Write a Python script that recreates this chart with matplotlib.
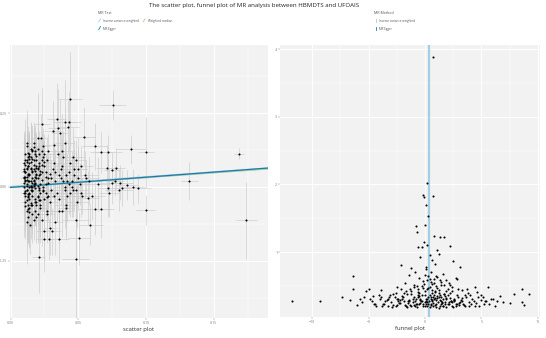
import matplotlib
matplotlib.use("Agg")
import matplotlib.pyplot as plt
from matplotlib.lines import Line2D
from matplotlib.legend_handler import HandlerBase
import numpy as np

plt.rcParams['font.family'] = ['Open Sans', 'DejaVu Sans']

# ---- scatter plot data (SNP effects on exposure / outcome) ----
bx = [0.010,0.012,0.014,0.011,0.016,0.013,0.018,0.015,0.020,0.012,
      0.017,0.011,0.019,0.014,0.022,0.013,0.016,0.021,0.010,0.018,
      0.024,0.012,0.015,0.020,0.026,0.011,0.017,0.023,0.014,0.019,
      0.028,0.013,0.016,0.021,0.012,0.025,0.018,0.015,0.022,0.010,
      0.027,0.014,0.019,0.011,0.024,0.016,0.030,0.013,0.020,0.017,
      0.031,0.012,0.018,0.015,0.022,0.026,0.011,0.019,0.014,0.029,
      0.033,0.016,0.012,0.021,0.017,0.013,0.024,0.032,0.015,0.020,
      0.035,0.011,0.018,0.014,0.023,0.019,0.027,0.012,0.016,0.025,
      0.034,0.013,0.021,0.017,0.010,0.028,0.015,0.022,0.036,0.012,
      0.038,0.014,0.019,0.026,0.011,0.016,0.030,0.023,0.013,0.040,
      0.018,0.012,0.025,0.015,0.020,0.032,0.011,0.028,0.017,0.042,
      0.014,0.021,0.013,0.037,0.016,0.019,0.024,0.010,0.033,0.045,
      0.039,0.041,0.044,0.036,0.047,0.043,0.050,0.046,0.038,0.052,
      0.041,0.048,0.037,0.049,0.044,0.055,0.040,0.053,0.045,0.048,
      0.058,0.036,0.042,0.051,0.047,0.040,0.056,0.039,0.043,0.050,
      0.044,0.0755,0.0235,0.040,0.043,0.035,0.0425,0.0367,0.020,0.0225,
      0.054,0.032,0.062,0.067,0.072,0.0887,0.100,0.1685,0.132,0.174,
      0.0996,0.071,0.0747,0.0777,0.0645,0.072,0.077,0.081,0.080,0.086,
      0.090,0.094,0.073,0.075,0.082,0.062,0.0665,0.059,0.048,0.0505,
      0.036,0.025,0.0287,0.025,0.029,0.0305,0.0207,0.048,0.0147,0.041,
      0.057,0.031,0.034,0.027,0.023,0.052,0.060,0.046,0.038,0.033,
      0.013,0.016,0.011,0.019,0.022,0.014,0.017,0.012,0.020,0.015,
      0.018,0.010,0.023,0.013,0.016,0.021,0.011,0.014,0.026,0.012,
      0.015,0.019,0.012,0.017,0.024,0.010,0.013,0.020,0.016,0.028,
      0.011,0.014,0.018,0.022,0.013,0.016,0.025,0.012,0.019,0.015,
      0.020,0.012,0.017,0.014,0.027,0.011,0.018,0.023,0.013,0.016,
      0.010,0.015,0.021,0.012,0.018,0.014,0.029,0.017,0.011,0.022]
by = [0.030,0.010,-0.020,0.050,0.000,0.070,-0.040,0.020,0.060,-0.010,
      0.090,-0.050,0.040,-0.070,0.010,0.100,-0.030,0.080,0.000,0.110,
      -0.010,0.060,0.130,-0.090,0.050,-0.020,0.020,0.120,0.080,-0.060,
      0.030,-0.100,0.050,0.070,0.140,-0.040,-0.080,0.000,-0.020,0.080,
      0.090,0.040,-0.050,-0.030,0.100,0.120,-0.010,0.020,0.030,-0.110,
      0.060,0.150,0.010,-0.060,-0.070,0.010,0.090,0.070,-0.040,-0.050,
      0.020,-0.090,-0.120,0.110,0.060,0.040,0.140,-0.030,0.100,-0.030,
      0.110,0.020,0.120,0.000,0.050,-0.100,-0.080,-0.080,0.030,0.070,
      -0.020,-0.030,-0.010,0.150,-0.020,0.120,0.060,-0.060,0.040,0.090,
      0.070,0.110,0.030,-0.020,0.110,-0.060,0.030,0.090,-0.060,-0.010,
      -0.050,-0.010,0.110,-0.010,0.130,0.080,0.050,-0.030,0.010,0.020,
      0.020,0.040,0.070,0.030,-0.010,0.090,0.000,0.060,0.050,0.000,
      0.100,0.040,-0.020,-0.040,0.060,0.010,0.030,-0.010,0.120,-0.020,
      -0.070,0.090,0.060,-0.050,0.080,0.040,0.150,-0.030,0.020,-0.010,
      0.020,-0.080,-0.030,0.010,0.040,0.000,0.030,0.020,0.050,0.060,
      0.297,0.277,0.213,0.220,0.220,0.200,0.203,0.183,0.167,0.167,
      0.170,0.143,0.137,0.117,0.117,0.127,0.117,0.113,0.020,-0.113,
      -0.077,0.063,0.057,0.063,0.010,-0.002,0.020,0.015,-0.010,0.007,
      0.000,-0.005,-0.020,0.012,-0.003,-0.073,-0.073,-0.127,-0.113,-0.173,
      -0.177,-0.177,-0.177,-0.150,-0.140,-0.150,-0.237,-0.243,-0.127,-0.060,
      -0.037,0.190,0.230,-0.090,-0.110,0.070,-0.030,0.100,-0.080,-0.120,
      0.045,-0.015,0.025,0.065,-0.045,0.105,0.005,0.035,-0.035,0.085,
      0.015,0.055,0.075,-0.025,0.125,-0.005,-0.065,0.095,0.035,0.005,
      -0.055,0.045,0.085,0.025,-0.015,0.035,-0.035,0.065,0.055,0.015,
      0.075,-0.025,-0.005,0.045,0.115,0.015,0.085,-0.045,0.105,0.065,
      0.005,0.025,0.135,0.045,-0.035,-0.015,0.055,0.025,-0.075,0.095,
      0.015,0.005,-0.045,0.065,0.035,-0.085,0.045,0.075,0.035,0.055]
se_bx = [0.003,0.002,0.004,0.003,0.005,0.002,0.004,0.003,0.005,0.002,
         0.004,0.003,0.005,0.002,0.004,0.003,0.005,0.004,0.002,0.003,
         0.005,0.002,0.003,0.004,0.006,0.003,0.004,0.005,0.002,0.004,
         0.006,0.003,0.004,0.005,0.002,0.004,0.003,0.005,0.004,0.002,
         0.005,0.003,0.004,0.002,0.006,0.003,0.005,0.002,0.004,0.003,
         0.006,0.003,0.004,0.003,0.005,0.004,0.002,0.005,0.003,0.006,
         0.007,0.004,0.002,0.005,0.003,0.004,0.005,0.006,0.003,0.004,
         0.007,0.002,0.004,0.003,0.005,0.004,0.006,0.003,0.004,0.005,
         0.006,0.003,0.005,0.004,0.002,0.006,0.003,0.004,0.007,0.003,
         0.007,0.003,0.004,0.005,0.002,0.004,0.006,0.005,0.003,0.008,
         0.004,0.003,0.005,0.003,0.004,0.006,0.002,0.005,0.004,0.008,
         0.003,0.004,0.003,0.007,0.004,0.005,0.004,0.002,0.006,0.008,
         0.007,0.008,0.006,0.005,0.009,0.007,0.008,0.006,0.007,0.009,
         0.006,0.008,0.007,0.009,0.006,0.010,0.007,0.008,0.006,0.009,
         0.009,0.006,0.007,0.008,0.006,0.007,0.009,0.006,0.008,0.007,
         0.009,0.010,0.006,0.008,0.009,0.007,0.008,0.006,0.005,0.004,
         0.008,0.007,0.009,0.008,0.010,0.011,0.006,0.004,0.006,0.008,
         0.007,0.008,0.006,0.007,0.009,0.008,0.007,0.009,0.010,0.008,
         0.009,0.010,0.008,0.009,0.007,0.012,0.010,0.009,0.010,0.008,
         0.007,0.006,0.008,0.006,0.005,0.007,0.005,0.010,0.004,0.009,
         0.008,0.006,0.007,0.005,0.006,0.009,0.010,0.008,0.007,0.006,
         0.003,0.004,0.002,0.004,0.005,0.003,0.004,0.002,0.005,0.003,
         0.004,0.002,0.005,0.003,0.004,0.005,0.002,0.003,0.006,0.002,
         0.003,0.004,0.002,0.004,0.005,0.002,0.003,0.004,0.003,0.006,
         0.002,0.003,0.004,0.005,0.003,0.004,0.005,0.002,0.004,0.003,
         0.004,0.002,0.004,0.003,0.006,0.002,0.004,0.005,0.003,0.004,
         0.002,0.003,0.005,0.002,0.004,0.003,0.006,0.004,0.002,0.005]
se_by = [0.08,0.06,0.10,0.07,0.09,0.12,0.05,0.08,0.11,0.07,
         0.10,0.06,0.09,0.13,0.07,0.08,0.11,0.06,0.09,0.10,
         0.07,0.12,0.08,0.10,0.06,0.09,0.13,0.07,0.11,0.08,
         0.06,0.09,0.12,0.08,0.10,0.07,0.05,0.14,0.09,0.11,
         0.08,0.10,0.07,0.12,0.06,0.09,0.08,0.13,0.10,0.07,
         0.09,0.11,0.06,0.08,0.12,0.10,0.07,0.09,0.13,0.06,
         0.07,0.10,0.14,0.08,0.09,0.11,0.06,0.08,0.12,0.10,
         0.06,0.13,0.08,0.10,0.07,0.09,0.11,0.12,0.08,0.07,
         0.10,0.08,0.12,0.07,0.15,0.06,0.09,0.11,0.08,0.10,
         0.09,0.07,0.11,0.08,0.12,0.10,0.06,0.09,0.13,0.07,
         0.08,0.12,0.07,0.10,0.09,0.06,0.14,0.08,0.11,0.09,
         0.11,0.08,0.10,0.07,0.13,0.09,0.06,0.12,0.08,0.10,
         0.09,0.12,0.08,0.14,0.07,0.10,0.11,0.09,0.13,0.08,
         0.10,0.07,0.12,0.09,0.15,0.08,0.11,0.06,0.10,0.13,
         0.08,0.11,0.09,0.07,0.12,0.14,0.06,0.10,0.09,0.11,
         0.16,0.05,0.12,0.14,0.10,0.13,0.09,0.11,0.15,0.08,
         0.10,0.09,0.08,0.07,0.06,0.05,0.12,0.02,0.065,0.13,
         0.05,0.08,0.06,0.07,0.09,0.10,0.05,0.06,0.07,0.05,
         0.06,0.05,0.08,0.07,0.06,0.09,0.10,0.07,0.13,0.09,
         0.08,0.11,0.07,0.10,0.09,0.08,0.12,0.20,0.10,0.12,
         0.09,0.10,0.12,0.08,0.09,0.07,0.08,0.10,0.09,0.11,
         0.07,0.10,0.06,0.09,0.12,0.08,0.11,0.05,0.09,0.13,
         0.10,0.06,0.08,0.12,0.07,0.09,0.11,0.08,0.06,0.10,
         0.12,0.07,0.09,0.10,0.06,0.13,0.08,0.07,0.11,0.09,
         0.06,0.10,0.12,0.08,0.09,0.11,0.07,0.13,0.08,0.10,
         0.09,0.11,0.07,0.10,0.06,0.12,0.08,0.09,0.11,0.07,
         0.13,0.08,0.10,0.06,0.09,0.12,0.07,0.10,0.08,0.11]

# MR estimates (slopes) for the scatter lines
mr_methods = ["Inverse variance weighted", "Weighted median", "MR Egger"]
mr_slopes = [0.33, 0.325, 0.345]
mr_intercepts = [0.0, 0.0, -0.0015]

# ---- funnel plot data (single SNP estimate vs 1/SE) ----
b_iv = [0.7,0.2,-0.2,-0.05,0.7,0.05,0.23,-0.8,-0.7,-0.03,
        0.8,1.3,1.7,2.2,-0.6,-0.3,0.2,1.1,2.5,3.1,
        -6.4,-2.1,-1.2,2.7,2.8,-11.8,-9.3,-7.35,-6.4,-6.6,
        6.6,7.9,8.6,9.2,8.8,7.5,6.9,8.6,5.6,-0.1,
        0.4,0.6,-0.4,1.2,0.9,-0.9,0.1,1.6,-1.4,0.5,
        -0.5,0.3,1.0,1.9,-1.8,0.8,1.4,-0.2,2.1,0.0,
        -1.0,1.7,0.6,-0.7,2.4,-2.5,0.2,1.1,-1.3,2.9,
        -5.2,-4.9,-4.5,-4.1,-3.8,-3.5,-3.2,-2.9,-2.6,-2.3,
        -2.0,-1.8,-1.6,-1.4,-1.2,-1.0,-0.8,-0.6,-0.4,-0.2,
        0.0,0.2,0.4,0.6,0.8,1.0,1.2,1.4,1.6,1.8,
        2.0,2.2,2.4,2.6,2.8,3.0,3.3,3.6,3.9,4.2,
        4.5,4.8,5.1,5.4,5.7,6.0,-5.6,-6.0,-5.0,-4.3,
        -3.0,-2.7,-2.2,-1.9,-1.5,-1.1,-0.7,-0.3,0.1,0.5,
        0.9,1.3,1.7,2.1,2.5,2.9,3.4,3.8,4.3,4.7,
        -4.7,-4.0,-3.6,-3.3,-2.8,-2.4,-1.7,-1.3,-0.9,-0.5,
        0.3,0.7,1.1,1.5,1.9,2.3,2.7,3.2,3.7,4.1,
        -0.1,0.4,0.8,1.2,-0.6,-1.0,0.0,0.6,1.4,-0.3,
        5.0,5.3,4.4,3.5,6.2,-5.4,-3.9,-2.5,-2.1,-1.6,
        -0.8,-0.4,0.1,0.5,0.9,1.3,1.8,2.2,2.6,3.1,
        -1.2,-0.6,0.2,0.7,1.0,1.6,2.0,-0.2,0.4,1.1,
        4.6,5.2,5.8,3.3,2.4,-4.6,-3.4,-2.0,-5.8,6.4,
        0.0,0.3,0.6,0.9,-0.5,1.2,1.5,-0.9,0.2,0.8,
        1.9,2.3,2.7,3.5,4.0,-1.4,-2.4,-3.1,0.1,1.4,
        -2.8,-2.2,-1.7,-1.1,-0.7,-0.35,0.15,0.55,0.95,1.35,
        1.75,2.15,2.55,3.05,3.45,-3.7,-2.45,-1.55,-0.45,0.25,
        0.65,1.05,1.45,1.85,2.35,2.85,-1.95,-1.25,-0.15,0.35,
        0.75,1.15,1.55,2.05,-0.55,0.05,0.45,0.85,1.25,1.65,
        -3.3,-2.6,-1.9,-1.0,-0.6,0.0,0.5,1.0,1.9,2.6,
        -4.4,-3.9,3.3,3.9,4.4,5.0,-0.25,0.55,1.35,2.25]
precision = [3.88,2.02,1.84,1.81,1.83,1.69,1.53,1.38,1.30,1.40,
             1.24,1.22,1.22,1.09,1.07,1.07,1.10,1.03,0.87,0.78,
             0.64,0.81,0.76,0.62,0.60,0.27,0.28,0.33,0.45,0.29,
             0.35,0.38,0.45,0.38,0.22,0.25,0.26,0.26,0.49,1.15,
             0.95,0.88,0.92,0.97,0.82,0.70,0.75,0.68,0.66,0.71,
             0.62,0.64,0.65,0.58,0.55,0.60,0.56,0.57,0.54,0.66,
             0.52,0.51,0.53,0.50,0.49,0.48,0.59,0.47,0.46,0.45,
             0.42,0.31,0.24,0.36,0.21,0.28,0.33,0.19,0.40,0.25,
             0.30,0.22,0.38,0.27,0.20,0.34,0.24,0.41,0.29,0.21,
             0.36,0.26,0.19,0.44,0.31,0.23,0.39,0.28,0.20,0.35,
             0.24,0.32,0.21,0.29,0.37,0.22,0.27,0.33,0.20,0.30,
             0.25,0.21,0.34,0.28,0.23,0.30,0.26,0.22,0.46,0.20,
             0.26,0.34,0.29,0.40,0.25,0.31,0.19,0.28,0.23,0.33,
             0.22,0.29,0.38,0.26,0.19,0.34,0.23,0.40,0.27,0.33,
             0.27,0.30,0.23,0.20,0.38,0.31,0.43,0.22,0.27,0.35,
             0.47,0.21,0.32,0.25,0.42,0.27,0.20,0.29,0.45,0.24,
             0.53,0.48,0.55,0.44,0.45,0.49,0.42,0.39,0.51,0.37,
             0.37,0.27,0.48,0.36,0.20,0.33,0.44,0.22,0.45,0.19,
             0.30,0.25,0.27,0.22,0.41,0.36,0.24,0.40,0.30,0.26,
             0.43,0.33,0.30,0.25,0.50,0.21,0.46,0.47,0.60,0.63,
             0.41,0.24,0.30,0.44,0.43,0.35,0.29,0.35,0.31,0.27,
             0.20,0.24,0.28,0.32,0.23,0.18,0.26,0.21,0.45,0.36,
             0.19,0.28,0.24,0.21,0.37,0.29,0.27,0.36,0.78,0.33,
             0.22,0.25,0.21,0.26,0.23,0.27,0.20,0.24,0.29,0.21,
             0.26,0.23,0.28,0.25,0.22,0.24,0.30,0.27,0.31,0.33,
             0.29,0.35,0.24,0.31,0.26,0.23,0.33,0.38,0.24,0.28,
             0.34,0.26,0.30,0.36,0.40,0.30,0.37,0.42,0.34,0.38,
             0.30,0.21,0.27,0.22,0.36,0.26,0.31,0.19,0.32,0.29,
             0.23,0.34,0.32,0.26,0.20,0.29,0.50,0.56,0.58,0.52]
funnel_methods = ["Inverse variance weighted", "MR Egger"]
funnel_b = [0.35, 0.34]

line_colors = {"Inverse variance weighted": "#a6cee3",
               "Weighted median": "#a8d98a",
               "MR Egger": "#1f78b4"}
line_widths = {"Inverse variance weighted": 1.6,
               "Weighted median": 1.0,
               "MR Egger": 0.9}

bg = "#f2f2f2"
tick_col = "#7f7f7f"


class SlashHandler(HandlerBase):
    def create_artists(self, legend, orig, xd, yd, w, h, fontsize, trans):
        l = Line2D([w * 0.25, w * 0.75], [0, h * 1.4], color=orig.get_color(),
                   lw=orig.get_linewidth(), transform=trans)
        return [l]


class VlineHandler(HandlerBase):
    def create_artists(self, legend, orig, xd, yd, w, h, fontsize, trans):
        l = Line2D([w * 0.5, w * 0.5], [-h * 0.2, h * 1.2], color=orig.get_color(),
                   lw=orig.get_linewidth(), transform=trans)
        return [l]


def style_axes(ax):
    ax.set_facecolor(bg)
    for s in ax.spines.values():
        s.set_visible(False)
    ax.grid(True, which='major', color='white', lw=0.7)
    ax.grid(True, which='minor', color='white', lw=0.35)
    ax.set_axisbelow(True)
    ax.tick_params(which='major', length=1.2, width=0.3, color=tick_col,
                   labelsize=2.6, labelcolor=tick_col, pad=0.8)
    ax.tick_params(which='minor', length=0)


fig = plt.figure(figsize=(5.46, 3.38), dpi=100)
ax1 = fig.add_axes([0.018, 0.059, 0.473, 0.808])
ax2 = fig.add_axes([0.513, 0.062, 0.476, 0.805])

# scatter plot
ax1.errorbar(bx, by, yerr=se_by, fmt='none', ecolor='#cbcbcb', elinewidth=0.45, zorder=1)
ax1.errorbar(bx, by, xerr=se_bx, fmt='none', ecolor='#cbcbcb', elinewidth=0.45, zorder=1)
xs = np.array([-0.001, 0.19])
for m, s, i in zip(mr_methods, mr_slopes, mr_intercepts):
    ax1.plot(xs, i + s * xs, color=line_colors[m], lw=line_widths[m], zorder=2, label=m)
ax1.scatter(bx, by, s=2.2, color='black', lw=0, zorder=3)
ax1.set_xlim(-0.0005, 0.19)
ax1.set_ylim(-0.443, 0.48)
ax1.set_xticks([0.00, 0.05, 0.10, 0.15])
ax1.set_xticklabels(["0.00", "0.05", "0.10", "0.15"])
ax1.set_xticks([0.025, 0.075, 0.125, 0.175], minor=True)
ax1.set_yticks([-0.25, 0.00, 0.25])
ax1.set_yticklabels(["-0.25", "0.00", "0.25"])
ax1.set_yticks([-0.375, -0.125, 0.125, 0.375], minor=True)
style_axes(ax1)
ax1.set_xlabel("scatter plot", fontsize=4.2, color='#333333', labelpad=1.5)

# funnel plot
for m, b in zip(funnel_methods[::-1], funnel_b[::-1]):
    ax2.axvline(b, color=line_colors[m], lw=line_widths[m] if m != "MR Egger" else 0.6,
                zorder=2, label=m)
ax2.scatter(b_iv, precision, s=2.2, color='black', lw=0, zorder=3)
ax2.set_xlim(-12.83, 10.18)
ax2.set_ylim(0.04, 4.06)
ax2.set_xticks([-10, -5, 0, 5, 10])
ax2.set_xticks([-7.5, -2.5, 2.5, 7.5], minor=True)
ax2.set_yticks([1, 2, 3, 4])
ax2.set_yticks([0.5, 1.5, 2.5, 3.5], minor=True)
style_axes(ax2)
ax2.set_xlabel("funnel plot", fontsize=4.2, color='#333333', labelpad=1.5)

fig.suptitle("The scatter plot, funnel plot of MR analysis between HBMDTS and UFOAIS",
             x=0.465, y=0.99, fontsize=4.4, color='#222222')

# legends
h1 = [Line2D([], [], color=line_colors[m], lw=0.6) for m in ["Inverse variance weighted", "MR Egger", "Weighted median"]]
leg1 = fig.legend(h1, ["Inverse variance weighted", "MR Egger", "Weighted median"],
                  ncol=2, title="MR Test", loc='upper left', bbox_to_anchor=(0.174, 0.975),
                  frameon=False, fontsize=2.2, title_fontsize=2.6, handlelength=1.2,
                  handler_map={Line2D: SlashHandler()}, labelspacing=1.2, columnspacing=1.0,
                  handletextpad=0.6, alignment='left')
h2 = [Line2D([], [], color=line_colors[m], lw=0.6) for m in funnel_methods]
leg2 = fig.legend(h2, funnel_methods, title="MR Method", loc='upper left',
                  bbox_to_anchor=(0.680, 0.975), frameon=False, fontsize=2.2,
                  title_fontsize=2.6, handlelength=1.0, handler_map={Line2D: VlineHandler()},
                  labelspacing=1.2, handletextpad=0.6, alignment='left')
for leg in (leg1, leg2):
    leg.get_title().set_color('#555555')
    for t in leg.get_texts():
        t.set_color('#555555')

fig.savefig("out.png", dpi=100)
